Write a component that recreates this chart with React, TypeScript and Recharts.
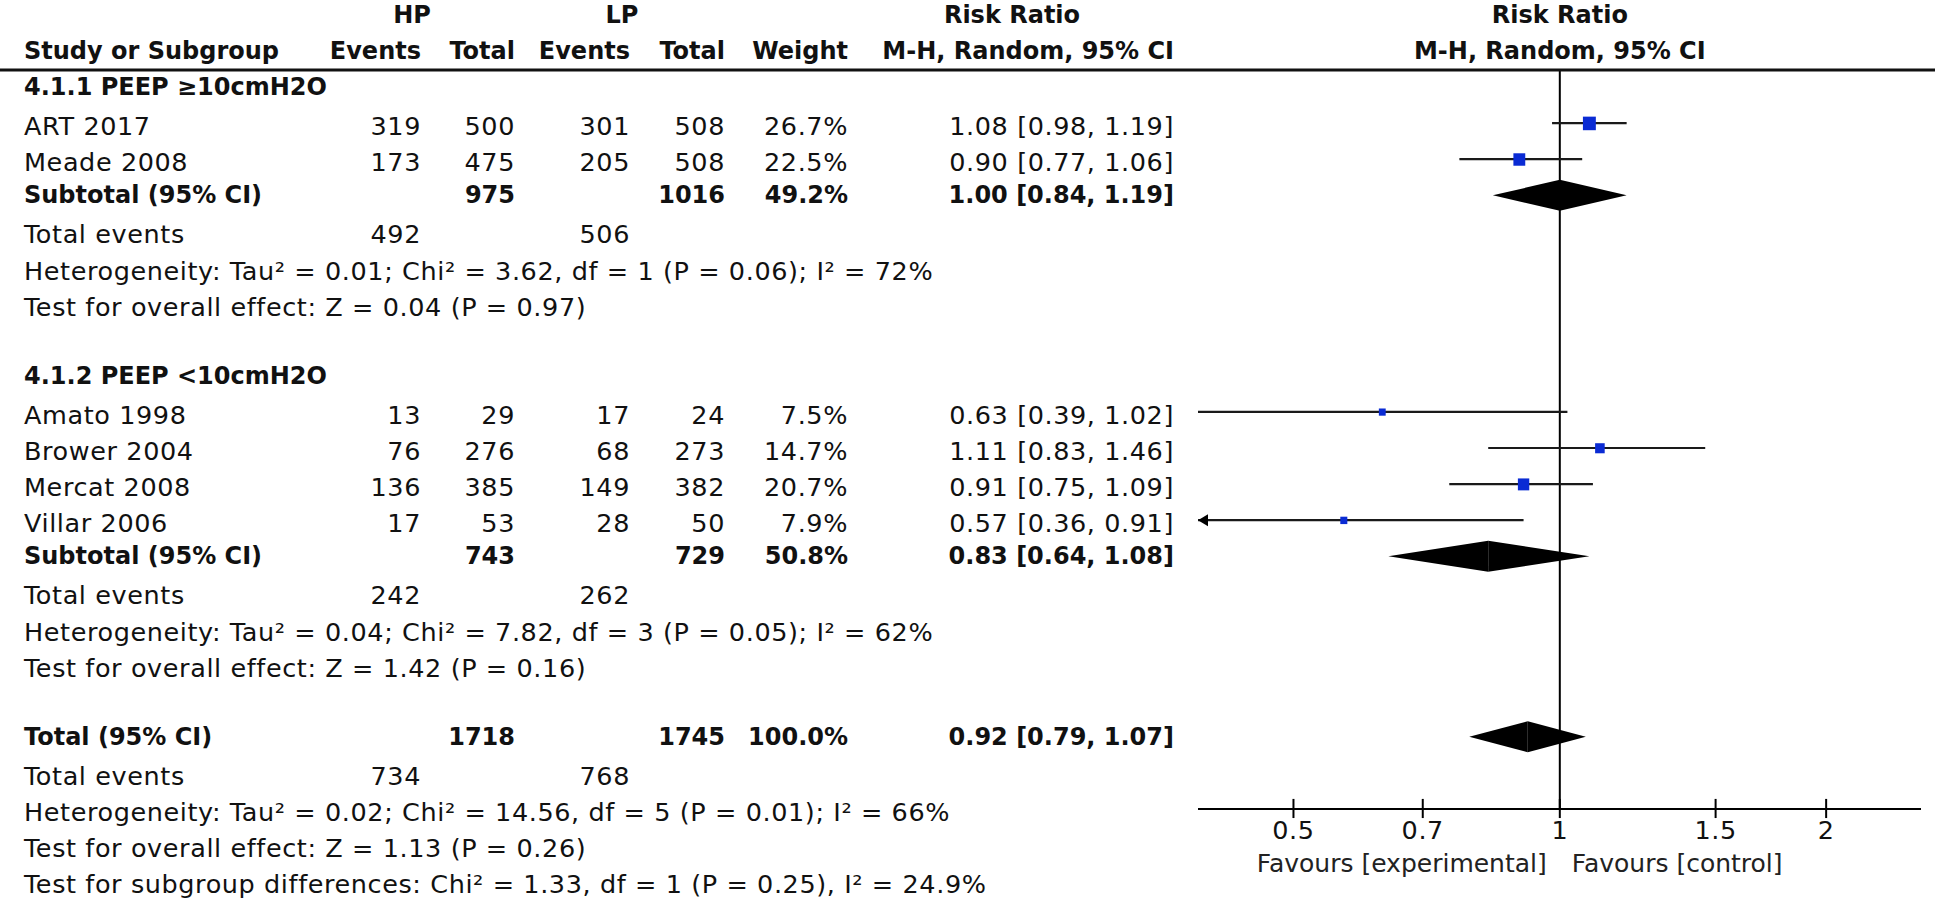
import React from "react";
import { ComposedChart, XAxis, YAxis, Scatter, ReferenceLine } from "recharts";

// ---------------- data ----------------
const studyNames = ["ART 2017", "Meade 2008", "Amato 1998", "Brower 2004", "Mercat 2008", "Villar 2006"];
const hpEvents = [319, 173, 13, 76, 136, 17];
const hpTotal = [500, 475, 29, 276, 385, 53];
const lpEvents = [301, 205, 17, 68, 149, 28];
const lpTotal = [508, 508, 24, 273, 382, 50];
const weights = [26.7, 22.5, 7.5, 14.7, 20.7, 7.9];
const riskRatio = [1.08, 0.9, 0.63, 1.11, 0.91, 0.57];
const ciLow = [0.98, 0.77, 0.39, 0.83, 0.75, 0.36];
const ciHigh = [1.19, 1.06, 1.02, 1.46, 1.09, 0.91];

const groupTitles = ["4.1.1 PEEP \u226510cmH2O", "4.1.2 PEEP <10cmH2O"];
const groupMembers = [[0, 1], [2, 3, 4, 5]];

const pooledLabels = ["Subtotal (95% CI)", "Subtotal (95% CI)", "Total (95% CI)"];
const pooledHpTotal = [975, 743, 1718];
const pooledLpTotal = [1016, 729, 1745];
const pooledWeight = [49.2, 50.8, 100.0];
const pooledRR = [1.0, 0.83, 0.92];
const pooledLow = [0.84, 0.64, 0.79];
const pooledHigh = [1.19, 1.08, 1.07];
const totalEventsHP = [492, 242, 734];
const totalEventsLP = [506, 262, 768];
const heterogeneityTexts = [
  "Heterogeneity: Tau\u00b2 = 0.01; Chi\u00b2 = 3.62, df = 1 (P = 0.06); I\u00b2 = 72%",
  "Heterogeneity: Tau\u00b2 = 0.04; Chi\u00b2 = 7.82, df = 3 (P = 0.05); I\u00b2 = 62%",
  "Heterogeneity: Tau\u00b2 = 0.02; Chi\u00b2 = 14.56, df = 5 (P = 0.01); I\u00b2 = 66%",
];
const overallEffectTexts = [
  "Test for overall effect: Z = 0.04 (P = 0.97)",
  "Test for overall effect: Z = 1.42 (P = 0.16)",
  "Test for overall effect: Z = 1.13 (P = 0.26)",
];
const subgroupDiffText = "Test for subgroup differences: Chi\u00b2 = 1.33, df = 1 (P = 0.25), I\u00b2 = 24.9%";

const headerTop = ["HP", "LP", "Risk Ratio", "Risk Ratio"];
const headerBottom = ["Study or Subgroup", "Events", "Total", "Events", "Total", "Weight", "M-H, Random, 95% CI", "M-H, Random, 95% CI"];
const tickValues = [0.5, 0.7, 1, 1.5, 2];
const tickLabels = ["0.5", "0.7", "1", "1.5", "2"];
const favourLabels = ["Favours [experimental]", "Favours [control]"];

// ---------------- layout ----------------
const X_MIN = 0.39;
const X_MAX = 2.56;
const Y_MIN = -2.41;
const Y_MAX = 22.52;
const RULE_ROW = -0.471;
const AXIS_ROW = 20;
const FONT = "'DejaVu Sans', Verdana, sans-serif";
const REG = { fontFamily: FONT, fontSize: 25.5, letterSpacing: 0.6, fill: "#111" };
const BOLD = { fontFamily: FONT, fontSize: 24, fontWeight: 700, fill: "#111" };
const COLS: { x: number; anchor: "start" | "end" | "middle" }[] = [
  { x: 24, anchor: "start" },
  { x: 421, anchor: "end" },
  { x: 515, anchor: "end" },
  { x: 630, anchor: "end" },
  { x: 725, anchor: "end" },
  { x: 848, anchor: "end" },
  { x: 1174, anchor: "end" },
];
const BLUE = "#0a2bd4";

const fmtCI = (a: number, b: number, c: number) => `${a.toFixed(2)} [${b.toFixed(2)}, ${c.toFixed(2)}]`;

// ---------------- rows ----------------
const tableRows: any[] = [];
const studyPoints: any[] = [];
const pooledPoints: any[] = [];
tableRows.push({ x: 1, y: -2, kind: "h1" });
tableRows.push({ x: 1, y: -1, kind: "h2" });
tableRows.push({ x: 1, y: RULE_ROW, kind: "rule" });
let row = 0;
groupTitles.forEach((title, g) => {
  tableRows.push({ x: 1, y: row, kind: "group", cells: [title] });
  row++;
  groupMembers[g].forEach((i) => {
    tableRows.push({
      x: 1, y: row, kind: "study",
      cells: [studyNames[i], String(hpEvents[i]), String(hpTotal[i]), String(lpEvents[i]), String(lpTotal[i]), weights[i].toFixed(1) + "%", fmtCI(riskRatio[i], ciLow[i], ciHigh[i])],
    });
    studyPoints.push({ x: riskRatio[i], y: row, lo: ciLow[i], hi: ciHigh[i], w: weights[i] });
    row++;
  });
  tableRows.push({
    x: 1, y: row, kind: "pooled",
    cells: [pooledLabels[g], "", String(pooledHpTotal[g]), "", String(pooledLpTotal[g]), pooledWeight[g].toFixed(1) + "%", fmtCI(pooledRR[g], pooledLow[g], pooledHigh[g])],
  });
  pooledPoints.push({ x: pooledRR[g], y: row, lo: pooledLow[g], hi: pooledHigh[g] });
  row++;
  tableRows.push({ x: 1, y: row, kind: "plain", cells: ["Total events", String(totalEventsHP[g]), "", String(totalEventsLP[g])] });
  row++;
  tableRows.push({ x: 1, y: row, kind: "plain", cells: [heterogeneityTexts[g]] });
  row++;
  tableRows.push({ x: 1, y: row, kind: "plain", cells: [overallEffectTexts[g]] });
  row += 2;
});
tableRows.push({
  x: 1, y: row, kind: "pooled",
  cells: [pooledLabels[2], "", String(pooledHpTotal[2]), "", String(pooledLpTotal[2]), pooledWeight[2].toFixed(1) + "%", fmtCI(pooledRR[2], pooledLow[2], pooledHigh[2])],
});
pooledPoints.push({ x: pooledRR[2], y: row, lo: pooledLow[2], hi: pooledHigh[2] });
row++;
tableRows.push({ x: 1, y: row, kind: "plain", cells: ["Total events", String(totalEventsHP[2]), "", String(totalEventsLP[2])] });
row++;
tableRows.push({ x: 1, y: row, kind: "plain", cells: [heterogeneityTexts[2]] });
row++;
tableRows.push({ x: 1, y: row, kind: "plain", cells: [overallEffectTexts[2]] });
row++;
tableRows.push({ x: 1, y: row, kind: "plain", cells: [subgroupDiffText] });

const tickLabelPoints = tickValues.map((v, i) => ({ x: v, y: 20.58, label: tickLabels[i] }));
const favourPoints = [{ x: 1, y: 21.5 }];

// ---------------- shapes ----------------
function TableRow(props: any) {
  const { cx, cy, payload } = props;
  const p = payload;
  if (p.kind === "rule") {
    return <line x1={0} x2={1935} y1={cy} y2={cy} stroke="#111" strokeWidth={3} />;
  }
  if (p.kind === "h1") {
    const xs = [412, 622, 1012, cx];
    return (
      <g>
        {headerTop.map((t, i) => (
          <text key={i} x={xs[i]} y={cy} textAnchor="middle" dominantBaseline="central" {...BOLD}>{t}</text>
        ))}
      </g>
    );
  }
  if (p.kind === "h2") {
    return (
      <g>
        {headerBottom.map((t, i) => {
          const c = i < 7 ? COLS[i] : { x: cx, anchor: "middle" as const };
          return (
            <text key={i} x={c.x} y={cy} textAnchor={c.anchor} dominantBaseline="central" {...BOLD}>{t}</text>
          );
        })}
      </g>
    );
  }
  const bold = p.kind === "group" || p.kind === "pooled";
  const style = bold ? BOLD : REG;
  const dy = bold ? 0 : 3;
  return (
    <g>
      {p.cells.map((t: string, i: number) =>
        t ? (
          <text key={i} x={COLS[i].x} y={cy + dy} textAnchor={COLS[i].anchor} dominantBaseline="central" {...style}>{t}</text>
        ) : null
      )}
    </g>
  );
}

function StudySquare(props: any) {
  const { cx, cy, payload } = props;
  const s = 2.5 * Math.sqrt(payload.w);
  return <rect x={cx - s / 2} y={cy - s / 2} width={s} height={s * 1.05} fill={BLUE} />;
}

function TickLabel(props: any) {
  const { cx, cy, payload } = props;
  return (
    <text x={cx} y={cy} textAnchor="middle" dominantBaseline="central" {...REG}>{payload.label}</text>
  );
}

function FavourLabels(props: any) {
  const { cx, cy } = props;
  const st = { fontFamily: FONT, fontSize: 25, fill: "#222" };
  return (
    <g>
      <text x={cx - 13} y={cy} textAnchor="end" dominantBaseline="central" {...st}>{favourLabels[0]}</text>
      <text x={cx + 12} y={cy} textAnchor="start" dominantBaseline="central" {...st}>{favourLabels[1]}</text>
    </g>
  );
}

const ciShape = (clipped: boolean) => (props: any) => {
  const { x1, y1, x2, y2 } = props;
  return (
    <g>
      <line x1={x1} y1={y1} x2={x2} y2={y2} stroke="#1a1a1a" strokeWidth={2.2} />
      {clipped ? <polygon points={`${x1},${y1} ${x1 + 10},${y1 - 6} ${x1 + 10},${y1 + 6}`} fill="#000" /> : null}
    </g>
  );
};

const HALF_H = 15.5;
const leftHalf = (props: any) => {
  const { x1, y1, x2 } = props;
  return <polygon points={`${x1},${y1} ${x2},${y1 - HALF_H} ${x2},${y1 + HALF_H}`} fill="#000" />;
};
const rightHalf = (props: any) => {
  const { x1, y1, x2 } = props;
  return <polygon points={`${x1},${y1 - HALF_H} ${x2},${y1} ${x1},${y1 + HALF_H}`} fill="#000" />;
};

export default function App() {
  return (
    <div style={{ position: "absolute", left: 0, top: 0, background: "#fff" }}>
      <ComposedChart width={1946} height={900} margin={{ top: 0, right: 25, bottom: 0, left: 1198 }}>
        <XAxis type="number" dataKey="x" scale="log" domain={[X_MIN, X_MAX]} hide />
        <YAxis type="number" dataKey="y" domain={[Y_MIN, Y_MAX]} reversed hide />

        {/* line of no effect */}
        <ReferenceLine ifOverflow="visible" segment={[{ x: 1, y: RULE_ROW }, { x: 1, y: AXIS_ROW }]} stroke="#000" strokeWidth={2} />
        {/* x axis */}
        <ReferenceLine ifOverflow="visible" segment={[{ x: X_MIN, y: AXIS_ROW }, { x: X_MAX, y: AXIS_ROW }]} stroke="#000" strokeWidth={2} />
        {tickValues.map((t) => (
          <ReferenceLine key={"t" + t} ifOverflow="visible" segment={[{ x: t, y: AXIS_ROW - 0.28 }, { x: t, y: AXIS_ROW + 0.25 }]} stroke="#000" strokeWidth={2} />
        ))}

        {/* confidence intervals */}
        {studyPoints.map((p, i) => (
          <ReferenceLine
            key={"ci" + i}
            ifOverflow="visible"
            segment={[{ x: Math.max(p.lo, X_MIN), y: p.y }, { x: Math.min(p.hi, X_MAX), y: p.y }]}
            shape={ciShape(p.lo < X_MIN)}
          />
        ))}

        {/* pooled diamonds */}
        {pooledPoints.map((p, i) => (
          <ReferenceLine key={"dl" + i} ifOverflow="visible" segment={[{ x: p.lo, y: p.y }, { x: p.x, y: p.y }]} shape={leftHalf} />
        ))}
        {pooledPoints.map((p, i) => (
          <ReferenceLine key={"dr" + i} ifOverflow="visible" segment={[{ x: p.x, y: p.y }, { x: p.hi, y: p.y }]} shape={rightHalf} />
        ))}

        <Scatter data={studyPoints} shape={StudySquare} isAnimationActive={false} legendType="none" />
        <Scatter data={tableRows} shape={TableRow} isAnimationActive={false} legendType="none" />
        <Scatter data={tickLabelPoints} shape={TickLabel} isAnimationActive={false} legendType="none" />
        <Scatter data={favourPoints} shape={FavourLabels} isAnimationActive={false} legendType="none" />
      </ComposedChart>
    </div>
  );
}
